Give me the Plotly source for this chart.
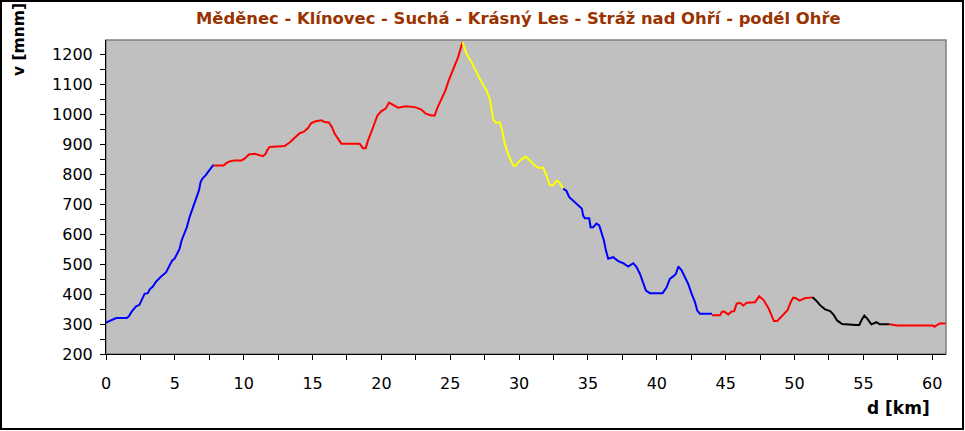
import plotly.graph_objects as go

# ---- data (distance in km, elevation in m n.m.) ----
seg1_km = [0, 0.5, 0.74, 1.51, 1.66, 1.88, 2.19, 2.43, 2.68, 2.8, 3.04, 3.16, 3.4, 3.65, 4.01, 4.37, 4.61, 4.81, 4.98,
           5.17, 5.34, 5.49, 5.68, 5.87, 6.07, 6.31, 6.55, 6.75, 6.87, 6.99, 7.23, 7.52, 7.76, 7.83]
seg1_v = [305, 314, 320, 320, 326, 342, 359, 364, 390, 401, 403, 415, 425, 442, 459, 473, 495, 512, 518,
          535, 551, 579, 601, 623, 657, 690, 724, 746, 774, 785, 796, 813, 829, 829]

seg2_km = [7.83, 8.54, 8.73, 8.97, 9.34, 9.83, 10.06, 10.38, 10.79, 11.1, 11.4, 11.59, 11.69, 11.88, 12.97, 13.34,
           13.7, 14.06, 14.35, 14.67, 14.91, 15.23, 15.64, 15.88, 16.19, 16.41, 16.61, 16.85, 17.09, 18.42, 18.66,
           18.86, 19.03, 19.27, 19.51, 19.71, 20.0, 20.31, 20.55, 20.84, 21.21, 21.77, 22.42, 22.9, 23.22, 23.63,
           23.87, 24.04, 24.36, 24.65, 24.89, 25.2, 25.57, 25.89]
seg2_v = [829, 829, 837, 843, 846, 846, 852, 866, 868, 863, 860, 868, 879, 891, 894, 906,
          923, 937, 941, 954, 971, 977, 980, 974, 973, 957, 935, 919, 902, 902, 887,
          887, 913, 941, 971, 996, 1011, 1019, 1039, 1032, 1022, 1027, 1024, 1016, 1002, 996,
          996, 1019, 1052, 1080, 1113, 1147, 1191, 1241]

seg3_km = [25.89, 25.98, 26.18, 26.54, 26.9, 27.27, 27.63, 27.87, 27.99, 28.11, 28.31, 28.6, 28.77, 28.96, 29.2,
           29.57, 29.76, 30.05, 30.49, 30.78, 31.14, 31.38, 31.74, 31.99, 32.23, 32.47, 32.72, 32.9, 33.2]
seg3_v = [1241, 1230, 1202, 1174, 1141, 1108, 1080, 1052, 1019, 985, 971, 974, 946, 902, 868,
          829, 829, 846, 859, 846, 829, 822, 822, 796, 763, 763, 779, 774, 752]

seg4_km = [33.2, 33.44, 33.63, 34.05, 34.41, 34.56, 34.65, 34.77, 35.09, 35.19, 35.38, 35.62, 35.82, 35.99, 36.16,
           36.3, 36.47, 36.83, 37.2, 37.56, 37.92, 38.29, 38.53, 38.77, 39.01, 39.21, 39.5, 40.42, 40.71, 40.95,
           41.19, 41.39, 41.56, 41.8, 42.04, 42.28, 42.53, 42.77, 42.94, 43.13, 44.0]
seg4_v = [752, 744, 724, 707, 690, 685, 662, 653, 653, 623, 623, 635, 629, 601, 579,
          546, 518, 523, 510, 503, 492, 503, 490, 468, 440, 412, 403, 403, 423, 451,
          459, 468, 492, 479, 456, 434, 401, 373, 345, 334, 334]

seg5_km = [44.0, 44.59, 44.71, 44.88, 45.19, 45.43, 45.62, 45.8, 46.04, 46.28, 46.53, 47.13, 47.44, 47.75, 48.12,
           48.5, 48.75, 49.12, 49.49, 49.74, 49.91, 50.11, 50.36, 50.73, 51.3]
seg5_v = [329, 329, 340, 342, 332, 342, 343, 368, 371, 362, 371, 373, 393, 380, 352,
          310, 310, 329, 346, 375, 388, 386, 378, 386, 389]

seg6_km = [51.3, 51.6, 51.85, 52.22, 52.59, 52.84, 53.09, 53.46, 54.46, 54.7, 54.88, 55.07, 55.28, 55.58, 55.95,
           56.19, 56.9]
seg6_v = [389, 377, 363, 349, 343, 331, 312, 300, 297, 297, 314, 328, 318, 299, 306, 299, 299]

seg7_km = [56.9, 57.43, 60.04, 60.16, 60.53, 60.97]
seg7_v = [299, 295, 295, 291, 302, 302]

segment_colors = ["#0000FF", "#FF0000", "#FFFF00", "#0000FF", "#FF0000", "#000000", "#FF0000"]

x_ticks = [0, 5, 10, 15, 20, 25, 30, 35, 40, 45, 50, 55, 60]
y_ticks = [200, 300, 400, 500, 600, 700, 800, 900, 1000, 1100, 1200]

title_text = "Měděnec - Klínovec - Suchá - Krásný Les - Stráž nad Ohří - podél Ohře"
x_title = "d [km]"
y_title = "v [mnm]"

# ---- figure ----
W, H = 965, 431
ML, MR, MT, MB = 106, 19, 40, 77
PW, PH = W - ML - MR, H - MT - MB

def px(x):
    return (x - ML) / PW

def py(y):
    return (MT + PH - y) / PH

segments = [(seg1_km, seg1_v), (seg2_km, seg2_v), (seg3_km, seg3_v), (seg4_km, seg4_v),
            (seg5_km, seg5_v), (seg6_km, seg6_v), (seg7_km, seg7_v)]

fig = go.Figure()
for (xs, ys), col in zip(segments, segment_colors):
    fig.add_trace(go.Scatter(x=xs, y=ys, mode="lines", line=dict(color=col, width=2),
                             showlegend=False, hoverinfo="x+y"))

tick_font = dict(family="DejaVu Sans, Arial, sans-serif", size=16, color="black")
bold_font = "DejaVu Sans, Arial, sans-serif"

fig.update_layout(
    width=W, height=H,
    margin=dict(l=ML, r=MR, t=MT, b=MB, pad=0),
    paper_bgcolor="white",
    plot_bgcolor="#C0C0C0",
    showlegend=False,
    xaxis=dict(range=[0, 61.0], tickvals=x_ticks, ticktext=[str(t) for t in x_ticks],
               showgrid=False, zeroline=False, showline=True, linecolor="black", linewidth=1,
               ticks="outside", ticklen=5, tickcolor="black", tickwidth=1,
               minor=dict(dtick=2.5, tick0=0, ticks="outside", ticklen=5, tickcolor="black", showgrid=False),
               tickfont=tick_font, ticklabelstandoff=10, fixedrange=True),
    yaxis=dict(range=[200, 1248], tickvals=y_ticks, ticktext=[str(t) for t in y_ticks],
               showgrid=False, zeroline=False, showline=True, linecolor="black", linewidth=1,
               ticks="outside", ticklen=5, tickcolor="black", tickwidth=1,
               minor=dict(dtick=50, tick0=0, ticks="outside", ticklen=5, tickcolor="black", showgrid=False),
               tickfont=tick_font, ticklabelstandoff=4, fixedrange=True),
    shapes=[
        dict(type="rect", xref="paper", yref="paper", x0=0, x1=1, y0=0, y1=1,
             line=dict(color="#808080", width=1.5), layer="below"),
        dict(type="rect", xref="paper", yref="paper", x0=px(1), x1=px(963), y0=py(429), y1=py(1),
             line=dict(color="black", width=2), layer="above"),
    ],
    annotations=[
        dict(text="<b>" + title_text + "</b>", xref="paper", yref="paper", x=px(518), y=py(19),
             xanchor="center", yanchor="middle", showarrow=False,
             font=dict(family=bold_font, size=16.4, color="#993300")),
        dict(text="<b>" + y_title + "</b>", xref="paper", yref="paper", x=px(19), y=py(40),
             xanchor="center", yanchor="middle", textangle=-90, showarrow=False,
             font=dict(family=bold_font, size=15.5, color="black")),
        dict(text="<b>" + x_title + "</b>", xref="paper", yref="paper", x=px(898), y=py(408),
             xanchor="center", yanchor="middle", showarrow=False,
             font=dict(family=bold_font, size=17, color="black")),
    ],
)

fig.write_html("out.html", config={"displayModeBar": False},
               post_script="document.body.style.margin='0';document.body.style.overflow='hidden';")
